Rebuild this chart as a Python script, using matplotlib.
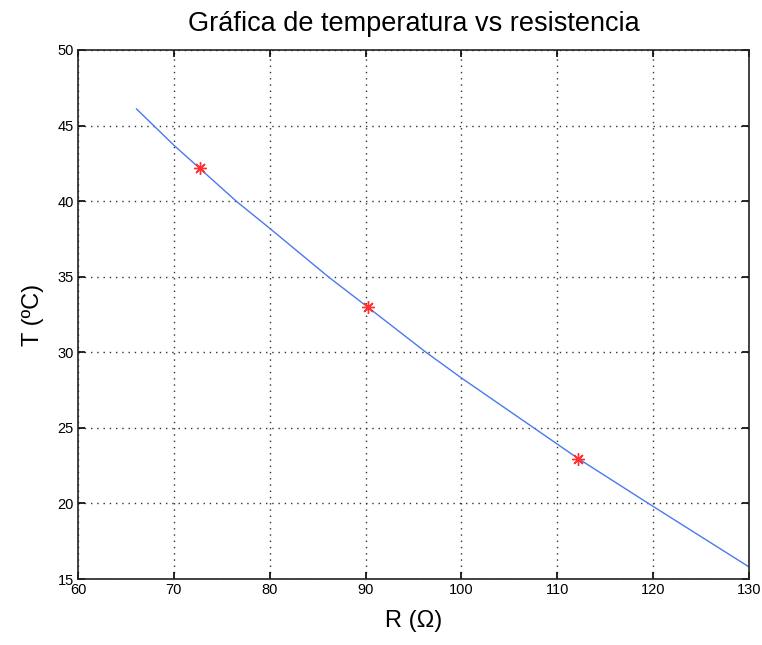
import matplotlib.pyplot as plt

# curve
r_curve = [66.1, 70.0, 76.5, 80.0, 86.1, 90.2, 96.3, 100.0, 108.0, 112.1, 120.0, 130.0]
t_curve = [46.1, 43.7, 40.0, 38.2, 35.0, 33.0, 30.0, 28.3, 24.8, 23.0, 19.8, 15.8]

# measured points
r_meas = [72.7, 90.2, 112.2]
t_meas = [42.2, 33.0, 22.95]

x_ticks = [60, 70, 80, 90, 100, 110, 120, 130]
y_ticks = [15, 20, 25, 30, 35, 40, 45, 50]

plt.rcParams['font.family'] = ['Liberation Sans', 'DejaVu Sans']

fig = plt.figure(figsize=(7.62, 6.45), dpi=100)
ax = fig.add_axes([0.1024, 0.1023, 0.8806, 0.8202])

ax.plot(r_curve, t_curve, color='#4a78f0', linewidth=1.0)
ax.plot(r_meas, t_meas, linestyle='none', marker=(8, 2, 0), markersize=9,
        markeredgewidth=1.0, color='#ff3030')

ax.set_xlim(60, 130)
ax.set_ylim(15, 50)
ax.set_xticks(x_ticks)
ax.set_yticks(y_ticks)
ax.grid(True, color='#333333', linestyle=(0, (1, 3.5)), linewidth=1.0)
ax.tick_params(direction='in', top=True, right=True, length=5, width=1.2,
               labelsize=10.5, pad=3)
for s in ax.spines.values():
    s.set_linewidth(1.2)
    s.set_color('#222222')

ax.set_title('Gráfica de temperatura vs resistencia', fontsize=19.5, pad=14)
ax.set_xlabel('R (Ω)', fontsize=17, labelpad=9)
ax.set_ylabel('T (ºC)', fontsize=17, labelpad=10)

fig.savefig('out.png', dpi=100)
